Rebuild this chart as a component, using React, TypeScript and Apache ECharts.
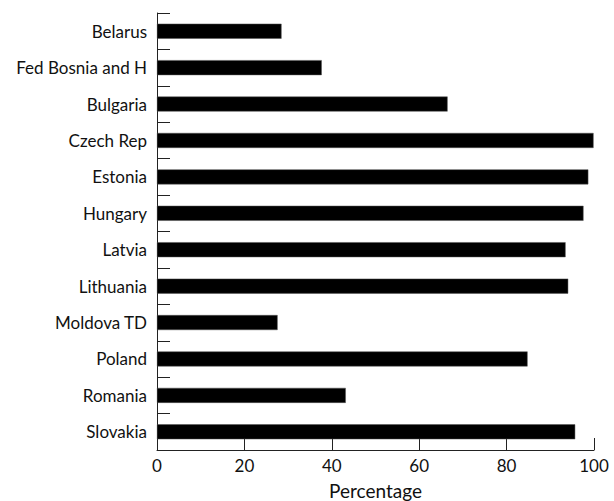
import React, { useEffect, useRef } from "react";
import * as echarts from "echarts";

const categories = [
  "Belarus",
  "Fed Bosnia and H",
  "Bulgaria",
  "Czech Rep",
  "Estonia",
  "Hungary",
  "Latvia",
  "Lithuania",
  "Moldova TD",
  "Poland",
  "Romania",
  "Slovakia",
];
const values = [28.5, 37.7, 66.5, 99.9, 98.7, 97.6, 93.5, 94.1, 27.6, 84.8, 43.2, 95.7];
const xTicks = [0, 20, 40, 60, 80, 100];

export default function App() {
  const ref = useRef<HTMLDivElement>(null);
  useEffect(() => {
    const chart = echarts.init(ref.current!, null, { renderer: "svg" });
    const font = "Lato, 'DejaVu Sans', sans-serif";
    chart.setOption({
      animation: false,
      grid: {
        left: 157,
        right: 20,
        top: 13,
        bottom: 51,
        containLabel: false,
        outerBoundsMode: "none",
      },
      xAxis: {
        type: "value",
        min: xTicks[0],
        max: xTicks[xTicks.length - 1],
        interval: 20,
        name: "Percentage",
        nameLocation: "middle",
        nameGap: 31,
        nameTextStyle: { color: "#111", fontSize: 19, fontFamily: font },
        axisLine: { show: true, lineStyle: { color: "#222", width: 1 } },
        axisTick: { show: true, inside: true, length: 12, lineStyle: { color: "#222" } },
        axisLabel: { color: "#111", fontSize: 17, fontFamily: font, margin: 7 },
        splitLine: { show: false },
      },
      yAxis: {
        type: "category",
        data: categories,
        inverse: true,
        boundaryGap: true,
        axisLine: { show: true, lineStyle: { color: "#222", width: 1 } },
        axisTick: { show: true, inside: true, length: 13, lineStyle: { color: "#222" } },
        axisLabel: { color: "#111", fontSize: 17, fontFamily: font, margin: 10 },
        splitLine: { show: false },
      },
      series: [
        {
          type: "bar",
          data: values,
          barWidth: 15,
          itemStyle: { color: "#000", borderColor: "#555", borderWidth: 0.5 },
        },
      ],
    });
    return () => chart.dispose();
  }, []);
  return (
    <div
      ref={ref}
      style={{ position: "absolute", left: 0, top: 0, width: 614, height: 501, background: "#fff" }}
    />
  );
}
